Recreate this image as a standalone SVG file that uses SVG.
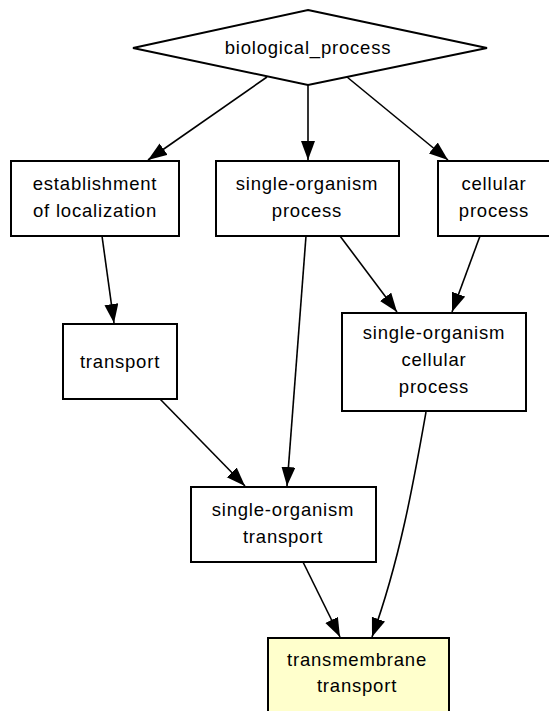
<svg xmlns="http://www.w3.org/2000/svg" width="549" height="711" viewBox="0 0 549 711">
<style>
.n{fill:#ffffff;stroke:#000000;stroke-width:2}
.hl{fill:#ffffcc}
.e{fill:none;stroke:#000000;stroke-width:1.6}
text{font-family:"Liberation Sans",Arial,sans-serif;font-size:18.5px;letter-spacing:0.8px;fill:#000000;text-anchor:middle}
</style>
<defs>
<marker id="arr" markerUnits="userSpaceOnUse" markerWidth="20" markerHeight="15" refX="19" refY="7" orient="auto">
<path d="M0,0 L19,7 L0,14 z" fill="#000000"/>
</marker>
</defs>
<rect width="549" height="711" fill="#ffffff"/>
<g id="edges">
<path class="e" d="M267,77 L148,160" marker-end="url(#arr)"/>
<path class="e" d="M308,85 L308,160" marker-end="url(#arr)"/>
<path class="e" d="M347,77 L448,160" marker-end="url(#arr)"/>
<path class="e" d="M102,236 L114,323" marker-end="url(#arr)"/>
<path class="e" d="M340,236 L397,312" marker-end="url(#arr)"/>
<path class="e" d="M480,236 L452,312" marker-end="url(#arr)"/>
<path class="e" d="M306,236 L287,486" marker-end="url(#arr)"/>
<path class="e" d="M160,399 L245,486" marker-end="url(#arr)"/>
<path class="e" d="M303,562 L340,637" marker-end="url(#arr)"/>
<path class="e" d="M426,412 C414,480 400,560 372,637" marker-end="url(#arr)"/>
</g>
<g id="biological_process">
<polygon class="n" points="308,10 487,48 308,85 133,48"/>
<text x="308" y="54">biological_process</text>
</g>
<g id="establishment_of_localization">
<rect class="n" x="11" y="161" width="168" height="75"/>
<text x="95" y="190">establishment</text>
<text x="95" y="217">of localization</text>
</g>
<g id="single_organism_process">
<rect class="n" x="216" y="161" width="183" height="75"/>
<text x="307" y="190">single-organism</text>
<text x="307" y="217">process</text>
</g>
<g id="cellular_process">
<rect class="n" x="438" y="161" width="112" height="75"/>
<text x="494" y="190">cellular</text>
<text x="494" y="217">process</text>
</g>
<g id="transport">
<rect class="n" x="63" y="324" width="114" height="75"/>
<text x="120" y="368">transport</text>
</g>
<g id="single_organism_cellular_process">
<rect class="n" x="342" y="313" width="184" height="98"/>
<text x="434" y="339">single-organism</text>
<text x="434" y="366">cellular</text>
<text x="434" y="393">process</text>
</g>
<g id="single_organism_transport">
<rect class="n" x="191" y="487" width="185" height="75"/>
<text x="283" y="516">single-organism</text>
<text x="283" y="543">transport</text>
</g>
<g id="transmembrane_transport">
<rect class="n hl" x="268" y="638" width="181" height="80"/>
<text x="357" y="666">transmembrane</text>
<text x="357" y="692">transport</text>
</g>
</svg>
